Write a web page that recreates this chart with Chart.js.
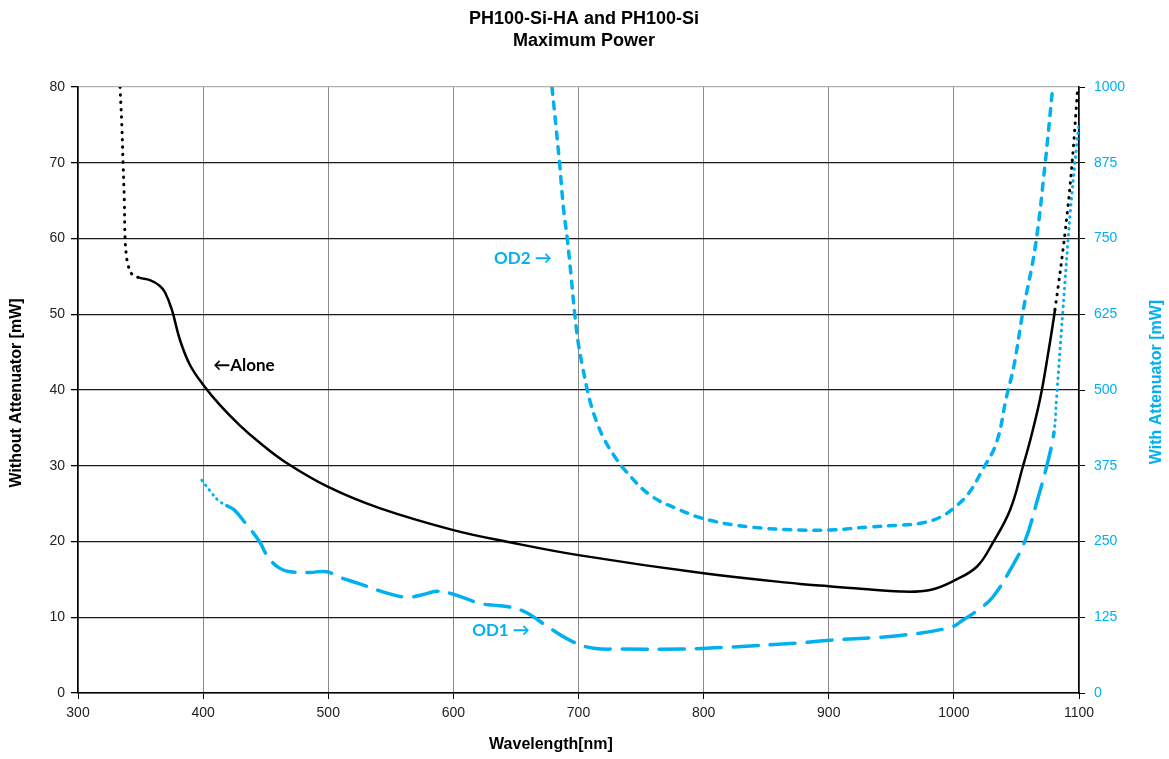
<!DOCTYPE html>
<html>
<head>
<meta charset="utf-8">
<script src="https://cdn.jsdelivr.net/npm/chart.js@4"></script>
<style>
  html, body { margin: 0; padding: 0; background: #fff; }
  #wrap { width: 1169px; height: 759px; }
</style>
</head>
<body>
<div id="wrap"><canvas id="grafica" width="1169" height="759"></canvas></div>
<script>
// Datos (longitud de onda en nm, potencia en mW)
const aloneWavelength = [333.6, 335, 336, 337, 337.6, 338.5, 340, 343, 346, 349.5, 357.5, 365, 369.5, 375, 381.5, 389.5, 400, 413.5, 429.5, 445.5, 465.5, 500, 541, 600, 645, 700, 800, 877, 900, 957, 981, 1001, 1018.5, 1031, 1045, 1055, 1062, 1069, 1075, 1080.8, 1089, 1094.5, 1099];
const alonePower = [80, 75, 70, 65, 60, 58, 56.5, 55.3, 55, 54.8, 54.5, 53.8, 52.9, 50.6, 46.6, 43.3, 40.7, 38.0, 35.3, 33.0, 30.5, 27.2, 24.4, 21.5, 19.9, 18.2, 15.8, 14.4, 14.1, 13.4, 13.6, 14.9, 16.7, 19.8, 24.2, 29.8, 34, 38.9, 44.5, 50.6, 61, 70, 80];
const aloneSolidRange = [349.5, 1080.8];

const od2Wavelength = [678.8, 682, 685, 688, 691, 694, 697, 700, 703, 709, 715, 721, 729, 737, 757, 781, 805, 837, 877, 901, 933, 957, 973, 989, 1001, 1012, 1022, 1034, 1042, 1048, 1055, 1065, 1073, 1079];
const od2Power = [1000, 935, 871, 800, 750, 690, 625, 575, 541, 483, 445, 417, 390, 368, 327, 302, 285, 274, 269, 269, 274, 277, 280, 290, 307, 330, 365, 413, 488, 540, 627, 736, 875, 1000];

const od1Wavelength = [399, 405, 412, 419, 425, 435, 445, 452, 461, 469.5, 485, 499, 509, 524, 539, 552, 563, 575, 587, 600, 621, 632, 645, 659, 677, 696, 712, 735, 783, 823, 875, 901, 957, 997, 1007, 1020, 1031, 1045, 1057, 1066, 1074, 1080, 1082, 1087, 1093, 1098, 1100];
const od1Power = [351, 335, 318, 309, 302, 277, 250, 224, 206, 200, 199, 200, 191, 181, 170, 162, 158, 162, 168, 163, 148, 145, 142, 132, 107, 84, 74, 72.6, 72.6, 76, 82.5, 87, 95, 108, 120, 138, 158, 203, 252, 313, 373, 430, 485, 627, 792, 901, 940];
const od1DashRange = [419, 1080];

const xTicks = [300, 400, 500, 600, 700, 800, 900, 1000, 1100];
const leftTicks = [0, 10, 20, 30, 40, 50, 60, 70, 80];
const rightTicks = [0, 125, 250, 375, 500, 625, 750, 875, 1000];

const AZUL = "#00B0F0";
const FUENTE = "'Liberation Sans', Arial, sans-serif";

function puntos(xs, ys) {
    return xs.map((x, i) => ({ x: x, y: ys[i] }));
}

function fueraDe(rango) {
    return (ctx) => ctx.p0.parsed.x < rango[0] - 0.01 || ctx.p1.parsed.x > rango[1] + 0.01;
}

const aloneDotted = fueraDe(aloneSolidRange);
const od1Dotted = fueraDe(od1DashRange);

// Textos y titulos dibujados encima
const textosPlugin = {
    id: "textos",
    afterDraw(chart) {
        const c = chart.ctx;
        const sx = chart.scales.x;
        const sy = chart.scales.y;
        c.save();
        c.textBaseline = "middle";

        // titulo
        c.fillStyle = "#000";
        c.textAlign = "center";
        c.font = "bold 18px " + FUENTE;
        c.fillText("PH100-Si-HA and PH100-Si", 584, 19);
        c.fillText("Maximum Power", 584, 41);

        // eje x
        c.font = "bold 16px " + FUENTE;
        c.fillText("Wavelength[nm]", 551, 745);

        // eje izquierdo
        c.save();
        c.translate(17, 393);
        c.rotate(-Math.PI / 2);
        c.fillText("Without Attenuator [mW]", 0, 0);
        c.restore();

        // eje derecho
        c.save();
        c.fillStyle = AZUL;
        c.translate(1157, 382);
        c.rotate(-Math.PI / 2);
        c.fillText("With Attenuator [mW]", 0, 0);
        c.restore();

        // etiquetas de las curvas
        c.textAlign = "left";
        c.font = "bold 17px Lato, 'Open Sans', sans-serif";
        c.fillStyle = "#000";
        c.fillText("←Alone", sx.getPixelForValue(408), sy.getPixelForValue(43.2));
        c.fillStyle = AZUL;
        c.fillText("OD2 →", sx.getPixelForValue(632.5), sy.getPixelForValue(57.3));
        c.fillText("OD1 →", sx.getPixelForValue(615), sy.getPixelForValue(8.3));
        c.restore();
    }
};

const sinComas = (v) => String(v);

new Chart(document.getElementById("grafica"), {
    type: "line",
    data: {
        datasets: [
            {
                label: "Alone",
                data: puntos(aloneWavelength, alonePower),
                yAxisID: "y",
                borderColor: "#000",
                borderWidth: 2.5,
                borderCapStyle: "round",
                pointRadius: 0,
                tension: 0.4,
                segment: {
                    borderDash: (ctx) => aloneDotted(ctx) ? [0.5, 7] : [],
                    borderWidth: (ctx) => aloneDotted(ctx) ? 3 : 2.5
                }
            },
            {
                label: "OD2",
                data: puntos(od2Wavelength, od2Power),
                yAxisID: "y1",
                borderColor: AZUL,
                borderWidth: 3.5,
                borderCapStyle: "round",
                borderDash: [7, 8],
                pointRadius: 0,
                tension: 0.4
            },
            {
                label: "OD1",
                data: puntos(od1Wavelength, od1Power),
                yAxisID: "y1",
                borderColor: AZUL,
                borderWidth: 3.5,
                borderCapStyle: "round",
                pointRadius: 0,
                tension: 0.4,
                segment: {
                    borderDash: (ctx) => od1Dotted(ctx) ? [0.5, 5.5] : [25, 12],
                    borderWidth: (ctx) => od1Dotted(ctx) ? 3 : 3.5
                }
            }
        ]
    },
    options: {
        responsive: false,
        animation: false,
        layout: { padding: { top: 87, left: 0, right: 0, bottom: 0 } },
        plugins: {
            legend: { display: false },
            title: { display: false },
            tooltip: { enabled: false }
        },
        scales: {
            x: {
                type: "linear",
                min: 300,
                max: 1100,
                afterBuildTicks: (s) => { s.ticks = xTicks.map(v => ({ value: v })); },
                afterFit: (s) => { s.height = 66; },
                grid: { color: "#8c8c8c", lineWidth: 1, tickColor: "#000", tickLength: 6 },
                border: { color: "#000", width: 1.5 },
                ticks: { color: "#222", font: { family: FUENTE, size: 14 }, padding: 6, callback: sinComas }
            },
            y: {
                position: "left",
                min: 0,
                max: 80,
                afterBuildTicks: (s) => { s.ticks = leftTicks.map(v => ({ value: v })); },
                afterFit: (s) => { s.width = 78; },
                grid: {
                    color: (ctx) => ctx.tick && ctx.tick.value === 80 ? "#b0b0b0" : "#1a1a1a",
                    lineWidth: 1.3,
                    tickColor: "#000",
                    tickLength: 7
                },
                border: { color: "#000", width: 1.5 },
                ticks: { color: "#222", font: { family: FUENTE, size: 14 }, padding: 6, callback: sinComas }
            },
            y1: {
                position: "right",
                min: 0,
                max: 1000,
                afterBuildTicks: (s) => { s.ticks = rightTicks.map(v => ({ value: v })); },
                afterFit: (s) => { s.width = 90; },
                grid: { drawOnChartArea: false, tickColor: "#000", tickLength: 6 },
                border: { color: "#000", width: 1.5 },
                ticks: { color: AZUL, font: { family: FUENTE, size: 14 }, padding: 9, callback: sinComas }
            }
        }
    },
    plugins: [textosPlugin]
});
</script>
</body>
</html>
